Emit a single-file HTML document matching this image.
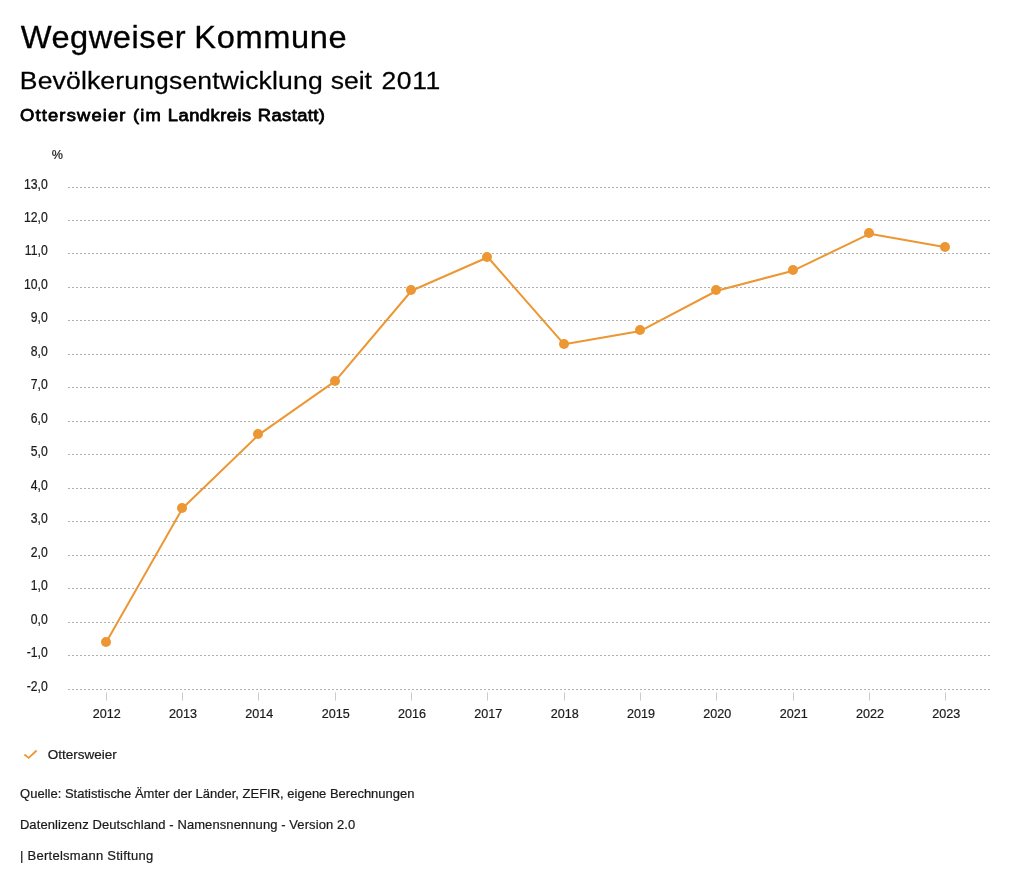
<!DOCTYPE html>
<html lang="de"><head><meta charset="utf-8"><title>Wegweiser Kommune</title>
<style>html,body{margin:0;padding:0;background:#fff}body{width:1024px;height:888px;overflow:hidden}svg{display:block;will-change:transform}text{font-family:"Liberation Sans",sans-serif;white-space:pre}</style></head><body>
<svg width="1024" height="888" viewBox="0 0 1024 888">
<rect width="1024" height="888" fill="#ffffff"/>
<text transform="translate(20.69,48.00) scale(1.065,1)" font-size="30.6" fill="#000" letter-spacing="0.52" stroke="#000" stroke-width="0.3" stroke-linejoin="round">Wegweiser</text>
<text transform="translate(194.31,48.00) scale(1.065,1)" font-size="30.6" fill="#000" letter-spacing="0.58" stroke="#000" stroke-width="0.3" stroke-linejoin="round">Kommune</text>
<text transform="translate(19.79,88.70) scale(1.07,1)" font-size="24.8" fill="#000" letter-spacing="0.15" stroke="#000" stroke-width="0.25" stroke-linejoin="round">Bevölkerungsentwicklung</text>
<text transform="translate(330.86,88.70) scale(1.07,1)" font-size="24.8" fill="#000" letter-spacing="-0.05" stroke="#000" stroke-width="0.25" stroke-linejoin="round">seit</text>
<text transform="translate(381.48,88.70) scale(1.07,1)" font-size="24.8" fill="#000" letter-spacing="0.55" stroke="#000" stroke-width="0.25" stroke-linejoin="round">2011</text>
<text transform="translate(20.03,121.20) scale(1.07,1)" font-size="17.2" fill="#000" letter-spacing="1.07" stroke="#000" stroke-width="0.8" stroke-linejoin="round">Ottersweier</text>
<text transform="translate(133.07,121.20) scale(1.07,1)" font-size="17.2" fill="#000" letter-spacing="1.05" stroke="#000" stroke-width="0.8" stroke-linejoin="round">(im</text>
<text transform="translate(167.78,121.20) scale(1.07,1)" font-size="17.2" fill="#000" letter-spacing="0.44" stroke="#000" stroke-width="0.8" stroke-linejoin="round">Landkreis</text>
<text transform="translate(257.78,121.20) scale(1.07,1)" font-size="17.2" fill="#000" letter-spacing="0.36" stroke="#000" stroke-width="0.8" stroke-linejoin="round">Rastatt)</text>
<text transform="translate(51.80,159.00) scale(0.92,1)" font-size="13.7" fill="#1a1a1a" stroke="#1a1a1a" stroke-width="0.22">%</text>
<g stroke="#b0b0b0" stroke-width="1" stroke-dasharray="2,2" shape-rendering="crispEdges">
<line x1="68" y1="187.5" x2="990" y2="187.5"/>
<line x1="68" y1="220.5" x2="990" y2="220.5"/>
<line x1="68" y1="253.5" x2="990" y2="253.5"/>
<line x1="68" y1="287.5" x2="990" y2="287.5"/>
<line x1="68" y1="320.5" x2="990" y2="320.5"/>
<line x1="68" y1="354.5" x2="990" y2="354.5"/>
<line x1="68" y1="387.5" x2="990" y2="387.5"/>
<line x1="68" y1="421.5" x2="990" y2="421.5"/>
<line x1="68" y1="454.5" x2="990" y2="454.5"/>
<line x1="68" y1="488.5" x2="990" y2="488.5"/>
<line x1="68" y1="521.5" x2="990" y2="521.5"/>
<line x1="68" y1="555.5" x2="990" y2="555.5"/>
<line x1="68" y1="588.5" x2="990" y2="588.5"/>
<line x1="68" y1="622.5" x2="990" y2="622.5"/>
<line x1="68" y1="655.5" x2="990" y2="655.5"/>
<line x1="68" y1="689.5" x2="990" y2="689.5"/>
</g>
<text transform="translate(47.70,189.45) scale(0.885,1)" font-size="13.8" fill="#1a1a1a" text-anchor="end" stroke="#1a1a1a" stroke-width="0.22">13,0</text>
<text transform="translate(47.70,222.45) scale(0.885,1)" font-size="13.8" fill="#1a1a1a" text-anchor="end" stroke="#1a1a1a" stroke-width="0.22">12,0</text>
<text transform="translate(47.70,255.45) scale(0.885,1)" font-size="13.8" fill="#1a1a1a" text-anchor="end" stroke="#1a1a1a" stroke-width="0.22">11,0</text>
<text transform="translate(47.70,289.45) scale(0.885,1)" font-size="13.8" fill="#1a1a1a" text-anchor="end" stroke="#1a1a1a" stroke-width="0.22">10,0</text>
<text transform="translate(47.70,322.45) scale(0.885,1)" font-size="13.8" fill="#1a1a1a" text-anchor="end" stroke="#1a1a1a" stroke-width="0.22">9,0</text>
<text transform="translate(47.70,356.45) scale(0.885,1)" font-size="13.8" fill="#1a1a1a" text-anchor="end" stroke="#1a1a1a" stroke-width="0.22">8,0</text>
<text transform="translate(47.70,389.45) scale(0.885,1)" font-size="13.8" fill="#1a1a1a" text-anchor="end" stroke="#1a1a1a" stroke-width="0.22">7,0</text>
<text transform="translate(47.70,423.45) scale(0.885,1)" font-size="13.8" fill="#1a1a1a" text-anchor="end" stroke="#1a1a1a" stroke-width="0.22">6,0</text>
<text transform="translate(47.70,456.45) scale(0.885,1)" font-size="13.8" fill="#1a1a1a" text-anchor="end" stroke="#1a1a1a" stroke-width="0.22">5,0</text>
<text transform="translate(47.70,490.45) scale(0.885,1)" font-size="13.8" fill="#1a1a1a" text-anchor="end" stroke="#1a1a1a" stroke-width="0.22">4,0</text>
<text transform="translate(47.70,523.45) scale(0.885,1)" font-size="13.8" fill="#1a1a1a" text-anchor="end" stroke="#1a1a1a" stroke-width="0.22">3,0</text>
<text transform="translate(47.70,557.45) scale(0.885,1)" font-size="13.8" fill="#1a1a1a" text-anchor="end" stroke="#1a1a1a" stroke-width="0.22">2,0</text>
<text transform="translate(47.70,590.45) scale(0.885,1)" font-size="13.8" fill="#1a1a1a" text-anchor="end" stroke="#1a1a1a" stroke-width="0.22">1,0</text>
<text transform="translate(47.70,624.45) scale(0.885,1)" font-size="13.8" fill="#1a1a1a" text-anchor="end" stroke="#1a1a1a" stroke-width="0.22">0,0</text>
<text transform="translate(47.70,657.45) scale(0.885,1)" font-size="13.8" fill="#1a1a1a" text-anchor="end" stroke="#1a1a1a" stroke-width="0.22">-1,0</text>
<text transform="translate(47.70,691.45) scale(0.885,1)" font-size="13.8" fill="#1a1a1a" text-anchor="end" stroke="#1a1a1a" stroke-width="0.22">-2,0</text>
<g stroke="#cccccc" stroke-width="1">
<line x1="106.5" y1="692.4" x2="106.5" y2="700.6"/>
<line x1="182.5" y1="692.4" x2="182.5" y2="700.6"/>
<line x1="258.5" y1="692.4" x2="258.5" y2="700.6"/>
<line x1="335.5" y1="692.4" x2="335.5" y2="700.6"/>
<line x1="411.5" y1="692.4" x2="411.5" y2="700.6"/>
<line x1="487.5" y1="692.4" x2="487.5" y2="700.6"/>
<line x1="564.5" y1="692.4" x2="564.5" y2="700.6"/>
<line x1="640.5" y1="692.4" x2="640.5" y2="700.6"/>
<line x1="716.5" y1="692.4" x2="716.5" y2="700.6"/>
<line x1="793.5" y1="692.4" x2="793.5" y2="700.6"/>
<line x1="869.5" y1="692.4" x2="869.5" y2="700.6"/>
<line x1="945.5" y1="692.4" x2="945.5" y2="700.6"/>
</g>
<text transform="translate(106.70,718.20) scale(0.92,1)" font-size="13.7" fill="#1a1a1a" text-anchor="middle" stroke="#1a1a1a" stroke-width="0.22">2012</text>
<text transform="translate(183.03,718.20) scale(0.92,1)" font-size="13.7" fill="#1a1a1a" text-anchor="middle" stroke="#1a1a1a" stroke-width="0.22">2013</text>
<text transform="translate(259.36,718.20) scale(0.92,1)" font-size="13.7" fill="#1a1a1a" text-anchor="middle" stroke="#1a1a1a" stroke-width="0.22">2014</text>
<text transform="translate(335.69,718.20) scale(0.92,1)" font-size="13.7" fill="#1a1a1a" text-anchor="middle" stroke="#1a1a1a" stroke-width="0.22">2015</text>
<text transform="translate(412.02,718.20) scale(0.92,1)" font-size="13.7" fill="#1a1a1a" text-anchor="middle" stroke="#1a1a1a" stroke-width="0.22">2016</text>
<text transform="translate(488.35,718.20) scale(0.92,1)" font-size="13.7" fill="#1a1a1a" text-anchor="middle" stroke="#1a1a1a" stroke-width="0.22">2017</text>
<text transform="translate(564.68,718.20) scale(0.92,1)" font-size="13.7" fill="#1a1a1a" text-anchor="middle" stroke="#1a1a1a" stroke-width="0.22">2018</text>
<text transform="translate(641.01,718.20) scale(0.92,1)" font-size="13.7" fill="#1a1a1a" text-anchor="middle" stroke="#1a1a1a" stroke-width="0.22">2019</text>
<text transform="translate(717.34,718.20) scale(0.92,1)" font-size="13.7" fill="#1a1a1a" text-anchor="middle" stroke="#1a1a1a" stroke-width="0.22">2020</text>
<text transform="translate(793.67,718.20) scale(0.92,1)" font-size="13.7" fill="#1a1a1a" text-anchor="middle" stroke="#1a1a1a" stroke-width="0.22">2021</text>
<text transform="translate(870.00,718.20) scale(0.92,1)" font-size="13.7" fill="#1a1a1a" text-anchor="middle" stroke="#1a1a1a" stroke-width="0.22">2022</text>
<text transform="translate(946.33,718.20) scale(0.92,1)" font-size="13.7" fill="#1a1a1a" text-anchor="middle" stroke="#1a1a1a" stroke-width="0.22">2023</text>
<polyline fill="none" stroke="#ec9733" stroke-width="2" stroke-linejoin="round" stroke-linecap="round" points="106.20,642.15 182.53,508.28 258.86,434.65 335.19,381.11 411.52,290.75 487.85,257.28 564.18,344.29 640.51,330.91 716.84,290.75 793.17,270.67 869.50,233.85 945.83,247.24"/>
<g fill="#ec9733">
<circle cx="106.00" cy="642.00" r="5"/>
<circle cx="182.00" cy="508.00" r="5"/>
<circle cx="258.00" cy="434.00" r="5"/>
<circle cx="335.00" cy="381.00" r="5"/>
<circle cx="411.00" cy="290.00" r="5"/>
<circle cx="487.00" cy="257.00" r="5"/>
<circle cx="564.00" cy="344.00" r="5"/>
<circle cx="640.00" cy="330.00" r="5"/>
<circle cx="716.00" cy="290.00" r="5"/>
<circle cx="793.00" cy="270.00" r="5"/>
<circle cx="869.00" cy="233.00" r="5"/>
<circle cx="945.00" cy="247.00" r="5"/>
</g>
<polyline fill="none" stroke="#ec9733" stroke-width="1.8" stroke-linecap="butt" stroke-linejoin="miter" points="24.4,754.5 28.7,757.9 36.6,750.5"/>
<text x="47.80" y="758.90" font-size="13.5" fill="#1a1a1a" stroke="#1a1a1a" stroke-width="0.22">Ottersweier</text>
<text transform="translate(20.10,798.20) scale(0.956,1)" font-size="13.6" fill="#1a1a1a" stroke="#1a1a1a" stroke-width="0.22">Quelle: Statistische Ämter der Länder, ZEFIR, eigene Berechnungen</text>
<text transform="translate(19.90,828.80) scale(0.956,1)" font-size="13.6" fill="#1a1a1a" letter-spacing="0.09" stroke="#1a1a1a" stroke-width="0.22">Datenlizenz Deutschland - Namensnennung - Version 2.0</text>
<text transform="translate(20.10,859.60) scale(0.956,1)" font-size="13.6" fill="#1a1a1a" letter-spacing="0.27" stroke="#1a1a1a" stroke-width="0.22">| Bertelsmann Stiftung</text>
</svg></body></html>
